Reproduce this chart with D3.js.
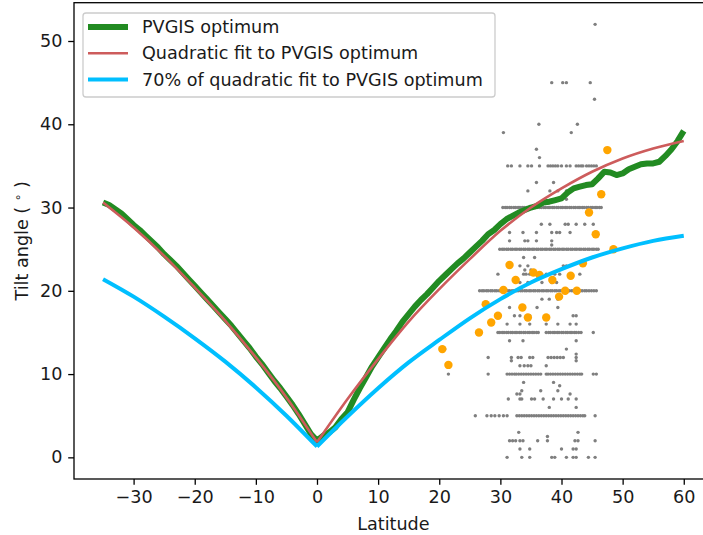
<!DOCTYPE html>
<html><head><meta charset="utf-8">
<script src="https://cdn.jsdelivr.net/npm/d3@7/dist/d3.min.js"></script>
<style>
html,body{margin:0;padding:0;background:#fff;}
svg{display:block;font-family:"DejaVu Sans",sans-serif;}
</style></head>
<body><svg id="chart" width="703" height="535"></svg>
<script>
// ---- data ----
const xTicks = [-30, -20, -10, 0, 10, 20, 30, 40, 50, 60];
const yTicks = [0, 10, 20, 30, 40, 50];
const legendLabels = ["PVGIS optimum", "Quadratic fit to PVGIS optimum", "70% of quadratic fit to PVGIS optimum"];

// PVGIS optimum (green)
const greenLat = [-35,-34,-33,-32,-31,-30,-29,-28,-27,-26,-25,-24,-23,-22,-21,-20,-19,-18,-17,-16,-15,-14,-13,-12,-11,-10,-9,-8,-7,-6,-5,-4,-3,-2,-1,-0.5,0,
  1,2,3,4,5,6,7,8,9,10,11,12,13,14,15,16,17,18,19,20,21,22,23,24,25,26,27,28,29,30,31,32,33,34,35,36,37,38,39,40,41,42,43,44,45,46,47,48,49,50,51,52,53,54,55,56,57,58,59,60];
const greenTilt = [30.6,30.3,29.8,29.3,28.6,27.9,27.3,26.6,25.9,25.2,24.4,23.7,23.0,22.2,21.4,20.6,19.8,19.0,18.2,17.4,16.6,15.8,14.9,14.0,13.1,12.1,11.2,10.2,9.2,8.3,7.3,6.3,5.2,4.0,2.8,2.4,2.0,
  2.6,3.0,3.6,4.6,5.4,6.9,8.3,9.6,10.9,12.0,13.1,14.2,15.2,16.3,17.2,18.1,18.9,19.6,20.4,21.2,21.9,22.6,23.3,23.9,24.6,25.3,26.0,26.8,27.3,28.0,28.6,29.0,29.4,29.7,30.0,30.2,30.6,30.7,30.9,31.1,31.8,32.3,32.5,32.7,32.8,33.5,34.3,34.2,33.9,34.1,34.6,34.9,35.2,35.3,35.3,35.5,36.2,37.0,38.0,39.2];

// Quadratic fit (red) and 70% of it (blue)
const fitLat  = [-35,-30,-25,-20,-15,-10,-5,0,5,10,15,20,25,30,35,40,45,50,55,60];
const redTilt = [30.6,27.6,24.2,20.4,16.4,12.0,7.2,1.8,7.0,11.8,16.3,20.2,23.8,27.2,30.0,32.3,34.3,35.9,37.1,38.0];
const blueTilt = [21.4,19.3,16.9,14.3,11.5,8.4,5.0,1.3,4.9,8.3,11.4,14.1,16.7,19.0,21.0,22.6,24.0,25.1,26.0,26.6];

// Survey tilts (grey): [tilt, latitudes]
const greyRows = [
  [52, [45.5]],
  [45, [38.4, 40.2, 40.8, 44.7]],
  [43, [45.4]],
  [40, [36.3, 42.6]],
  [39, [30.5, 41.6]],
  [37, [35.9]],
  [36, [36.4]],
  [35, [31.2,31.8,33.2,34.5,35.1,36.4,37.8,38.2,38.6,39.0,39.4,40.0,40.8,41.4,42.4,42.8,43.2,43.5,44.1,44.5,44.9,45.3,45.7]],
  [33, [35.9, 38.7]],
  [32, [34.5, 38.1, 39.4, 40.8]],
  [31, [40.8]],
  [30, [30.4,30.8,31.1,31.5,31.8,32.2,32.5,32.9,33.2,33.6,33.9,34.3,34.6,35.0,35.3,35.7,36.0,36.4,36.7,37.1,37.4,37.8,38.1,38.5,38.8,39.2,39.5,39.9,40.2,40.6,40.9,41.3,41.6,42.0,42.3,42.7,43.0,43.4,43.7,44.1,44.4,44.8,45.1,45.5,45.8,46.2,46.5]],
  [28, [36.7, 38.1, 40.6, 41.1, 42.4, 43.8, 45.2]],
  [27, [31.5, 33.7, 35.9, 38.4, 39.2, 39.7, 41.4]],
  [26, [31.5, 34.0, 34.5, 35.9, 38.4]],
  [25.5, [38.4]],
  [25, [29.9,30.3,30.6,31.0,31.3,31.7,32.0,32.4,32.7,33.1,33.4,33.8,34.1,34.5,34.8,35.2,35.5,35.9,36.2,36.6,36.9,37.3,37.6,38.0,38.3,38.7,39.0,39.4,39.7,40.1,40.4,40.8,41.1,41.5,41.8,42.2,42.5,42.9,43.2,43.6,43.9,44.3,44.6,45.0,45.3,45.7,46.0]],
  [24, [33.8, 35.6]],
  [23, [33.2, 34.5, 40.3, 40.8]],
  [22.5, [34.0, 35.0]],
  [22, [29.6, 33.8, 34.2, 34.8, 37.5, 38.9, 39.7, 41.4, 43.0]],
  [21, [33.2, 34.5, 36.8, 38.4, 39.2]],
  [20, [26.6,27.0,27.3,27.7,28.0,28.4,28.7,29.1,29.4,29.8,30.1,30.5,30.8,31.2,31.5,31.9,32.2,32.6,32.9,33.3,33.6,34.0,34.3,34.7,35.0,35.4,35.7,36.1,36.4,36.8,37.1,37.5,37.8,38.2,38.5,38.9,39.2,39.6,39.9,40.3,40.6,41.0,41.3,41.7,42.0,42.4,42.7,43.1,43.4,43.8,44.1,44.5,44.9,45.3,45.7]],
  [19, [36.8, 38.0, 39.4]],
  [18, [31.5, 36.0, 39.4]],
  [17, [32.3, 33.2, 34.8, 41.9, 42.4]],
  [16, [31.1, 33.2, 34.8, 37.5, 39.4, 41.4, 42.4]],
  [15, [29.6,29.9,30.3,30.6,31.0,31.3,31.7,32.0,32.4,32.7,33.1,33.4,33.8,34.1,34.5,34.8,35.2,35.5,35.9,36.2,37.5,37.9,38.2,38.6,38.9,39.3,39.6,40.0,40.3,40.7,41.0,41.4,41.7,42.1,42.4,42.8,43.2,45.2]],
  [14, [31.5, 33.7, 42.4]],
  [13, [20.9, 40.8]],
  [12.4, [42.4]],
  [12, [28.0, 31.8, 32.9, 33.4, 34.8, 35.3, 37.8, 38.3, 38.8, 39.3, 39.8, 40.3, 42.4]],
  [11.6, [31.8, 42.4]],
  [11, [33.2, 33.9, 34.5, 35.0, 37.5]],
  [10, [21.5,28.0,31.1,31.5,31.9,32.3,32.6,33.0,33.4,33.8,34.2,34.6,35.0,35.4,35.8,36.2,36.6,37.5,37.8,38.2,38.6,39.0,39.4,39.8,40.2,40.6,41.0,41.4,41.8,42.2,42.6,43.0,43.3,45.2,45.7]],
  [9, [33.8, 38.7]],
  [8.6, [39.7]],
  [8, [33.5, 36.6, 39.4]],
  [7.6, [32.7, 33.2, 41.4]],
  [7, [31.3, 33.2, 33.5, 35.1, 35.6, 37.0, 38.7, 40.0, 41.1, 42.4]],
  [6, [38.0, 42.4]],
  [5, [25.9,27.8,28.5,29.1,29.8,30.5,31.1,32.7,33.1,33.5,33.9,34.3,34.7,35.1,35.5,35.9,36.3,36.7,37.1,37.5,37.9,38.3,38.7,39.1,39.5,39.9,40.3,40.7,41.1,41.5,41.9,42.3,42.7,43.1,43.5,43.8,45.5]],
  [3, [33.0, 42.7]],
  [2.5, [37.7]],
  [2, [31.5, 32.0, 32.5, 33.2, 33.7, 36.1, 37.7, 42.2, 42.7, 45.5]],
  [1, [33.2, 34.8, 40.0, 41.9, 42.4]],
  [0, [31.1, 33.5, 34.8, 38.4, 38.9, 40.8, 41.9, 42.4, 44.4, 45.5]]
];

// Survey averages (orange)
const orangeLat  = [47.5,46.5,44.5,45.6,48.5,31.5,43.5,35.4,36.4,32.5,38.5,41.5,30.5,40.6,42.5,39.6,27.6,33.6,29.6,28.5,34.5,37.5,26.5,20.5,21.5];
const orangeTilt = [36.9,31.6,29.4,26.8,25.0,23.1,23.3,22.2,21.9,21.3,21.3,21.8,20.1,20.0,20.0,19.3,18.4,18.0,17.0,16.2,16.8,16.8,15.0,13.0,11.1];

// ---- chart ----
const svg = d3.select("#chart");
const mLeft = 74, mRight = 712.8, mTop = 2.7, mBottom = 479;
const x = d3.scaleLinear().domain([-39.75, 64.75]).range([mLeft, mRight]);
const y = d3.scaleLinear().domain([-2.6, 54.6]).range([mBottom, mTop]);
const FS = 17.6;

// grey points
const greyPts = [];
greyRows.forEach(([t, lats]) => lats.forEach(l => greyPts.push([l, t])));
svg.append("g").selectAll("circle").data(greyPts).join("circle")
  .attr("cx", d => x(d[0])).attr("cy", d => y(d[1])).attr("r", 1.7)
  .attr("fill", "#7f7f7f");

// orange points
svg.append("g").selectAll("circle").data(orangeLat.map((l, i) => [l, orangeTilt[i]])).join("circle")
  .attr("cx", d => x(d[0])).attr("cy", d => y(d[1])).attr("r", 4.2)
  .attr("fill", "#ffa500");

// lines
const line = d3.line().x(d => x(d[0])).y(d => y(d[1]));
const lineSmooth = d3.line().x(d => x(d[0])).y(d => y(d[1])).curve(d3.curveMonotoneX);
svg.append("path").datum(greenLat.map((l, i) => [l, greenTilt[i]]))
  .attr("d", line).attr("fill", "none").attr("stroke", "#228b22")
  .attr("stroke-width", 6).attr("stroke-linejoin", "round").attr("stroke-linecap", "butt");

function drawFit(vals, color, w) {
  const pts = fitLat.map((l, i) => [l, vals[i]]);
  const south = pts.filter(p => p[0] <= 0), north = pts.filter(p => p[0] >= 0);
  [south, north].forEach(seg => svg.append("path").datum(seg)
    .attr("d", lineSmooth).attr("fill", "none").attr("stroke", color)
    .attr("stroke-width", w).attr("stroke-linejoin", "round").attr("stroke-linecap", "butt"));
}
drawFit(redTilt, "#cd5c5c", 2.6);
drawFit(blueTilt, "#00bfff", 4);

// axes
const xAxis = d3.axisBottom(x).tickValues(xTicks).tickSize(5.8).tickPadding(5.8)
  .tickFormat(d => d < 0 ? "\u2212" + Math.abs(d) : d);
const gx = svg.append("g").attr("transform", `translate(0,${mBottom})`).call(xAxis);
const yAxis = d3.axisLeft(y).tickValues(yTicks).tickSize(5.8).tickPadding(5.8);
const gy = svg.append("g").attr("transform", `translate(${mLeft},0)`).call(yAxis);
[gx, gy].forEach(g => {
  g.select(".domain").remove();
  g.selectAll(".tick line").attr("stroke", "#000").attr("stroke-width", 1.3);
  g.selectAll(".tick text").attr("fill", "#1a1a1a").style("font-size", FS + "px")
    .style("font-family", "DejaVu Sans");
});
// spines
svg.append("rect").attr("x", mLeft).attr("y", mTop).attr("width", mRight - mLeft).attr("height", mBottom - mTop)
  .attr("fill", "none").attr("stroke", "#000").attr("stroke-width", 1.3);

// axis labels
svg.append("text").attr("x", (mLeft + mRight) / 2).attr("y", 530).attr("text-anchor", "middle")
  .style("font-size", FS + "px").attr("fill", "#1a1a1a").text("Latitude");
const yl = svg.append("text").attr("transform", `translate(28,${(mTop + mBottom) / 2}) rotate(-90)`)
  .attr("text-anchor", "middle").style("font-size", FS + "px").attr("fill", "#1a1a1a");
yl.append("tspan").text("Tilt angle ( ");
yl.append("tspan").attr("dy", -6).style("font-size", "12px").text("\u2218");
yl.append("tspan").attr("dy", 6).text(" )");

// legend
const lg = svg.append("g");
lg.append("rect").attr("x", 83).attr("y", 13).attr("width", 412).attr("height", 84).attr("rx", 3)
  .attr("fill", "#fff").attr("fill-opacity", 0.8).attr("stroke", "#cccccc").attr("stroke-width", 1.3);
const legColors = ["#228b22", "#cd5c5c", "#00bfff"];
const legWidths = [6, 2.6, 4];
legendLabels.forEach((lab, i) => {
  const cy = 27 + i * 26.3;
  lg.append("line").attr("x1", 88).attr("x2", 128).attr("y1", cy).attr("y2", cy)
    .attr("stroke", legColors[i]).attr("stroke-width", legWidths[i]);
  lg.append("text").attr("x", 142).attr("y", cy).attr("dy", "0.35em")
    .style("font-size", FS + "px").attr("fill", "#1a1a1a").text(lab);
});
</script></body></html>
